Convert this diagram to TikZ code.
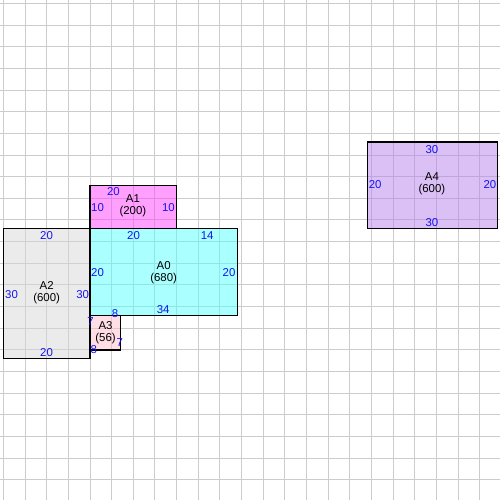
\documentclass[tikz,border=0pt]{standalone}
\usepackage{fontspec}
\setmainfont{Liberation Sans}
\usepackage{xcolor}

\definecolor{fillA0}{RGB}{85,255,255}
\definecolor{fillA1}{RGB}{255,65,255}
\definecolor{fillA2}{RGB}{215,215,215}
\definecolor{fillA3}{RGB}{255,189,205}
\definecolor{fillA4}{RGB}{181,129,235}
\definecolor{gridgray}{RGB}{204,204,204}
\definecolor{sideblue}{RGB}{20,20,240}

\begin{document}
\begin{tikzpicture}[x=1mm,y=-1mm,
        font=\fontsize{7.5}{7.8}\selectfont,
        gridline/.style={draw=gridgray,line width=0.23mm},
        room/.style={draw=black,line width=0.33mm,fill opacity=0.5},
        side/.style={text=sideblue,inner sep=0pt},
        tag/.style={align=center,inner sep=0pt}]
        \useasboundingbox (-0.77,-0.77) rectangle (114.62,114.62);
        % grid, every 5 units
        \foreach \i in {0,5,...,110} {
            \draw[gridline] (\i,-0.77) -- (\i,114.62);
            \draw[gridline] (-0.77,\i) -- (114.62,\i);
        }

        % rooms
        \filldraw[room,fill=fillA0] (20,52) rectangle ++(34,20);
        \filldraw[room,fill=fillA1] (20,42) rectangle ++(20,10);
        \filldraw[room,fill=fillA2] (0,52) rectangle ++(20,30);
        \filldraw[room,fill=fillA3] (20,72) rectangle ++(7,8);
        \filldraw[room,fill=fillA4] (84,32) rectangle ++(30,20);

        % A0
        \node[tag] (tagA0) at (37,62.2) {A0\\(680)};
        \node[side] (a0top) at (30.05,53.5) {20};
        \node[side] (a0topb) at (47.05,53.5) {14};
        \node[side] (a0left) at (21.74,62.05) {20};
        \node[side] (a0right) at (52.1,62.05) {20};
        \node[side] (a0bottom) at (36.9,70.7) {34};

        % A1
        \node[tag] (tagA1) at (29.9,46.7) {A1\\(200)};
        \node[side] (a1top) at (25.4,43.5) {20};
        \node[side] (a1left) at (21.74,47.05) {10};
        \node[side] (a1right) at (38.1,47.05) {10};

        % A2
        \node[tag] (tagA2) at (10,66.7) {A2\\(600)};
        \node[side] (a2top) at (9.97,53.5) {20};
        \node[side] (a2left) at (1.9,67.2) {30};
        \node[side] (a2right) at (18.3,67.2) {30};
        \node[side] (a2bottom) at (9.97,80.5) {20};

        % A3
        \node[tag] (tagA3) at (23.6,76.1) {A3\\(56)};
        \node[side] (a3top) at (25.8,71.7) {8};
        \node[side] (a3left) at (20.1,73.5) {7};
        \node[side] (a3right) at (26.9,78.2) {7};
        \node[side] (a3bottom) at (20.9,79.9) {8};

        % A4
        \node[tag] (tagA4) at (98.9,41.6) {A4\\(600)};
        \node[side] (a4top) at (98.9,33.75) {30};
        \node[side] (a4left) at (85.8,41.9) {20};
        \node[side] (a4right) at (112.3,41.9) {20};
        \node[side] (a4bottom) at (98.9,50.5) {30};
\end{tikzpicture}
\end{document}
